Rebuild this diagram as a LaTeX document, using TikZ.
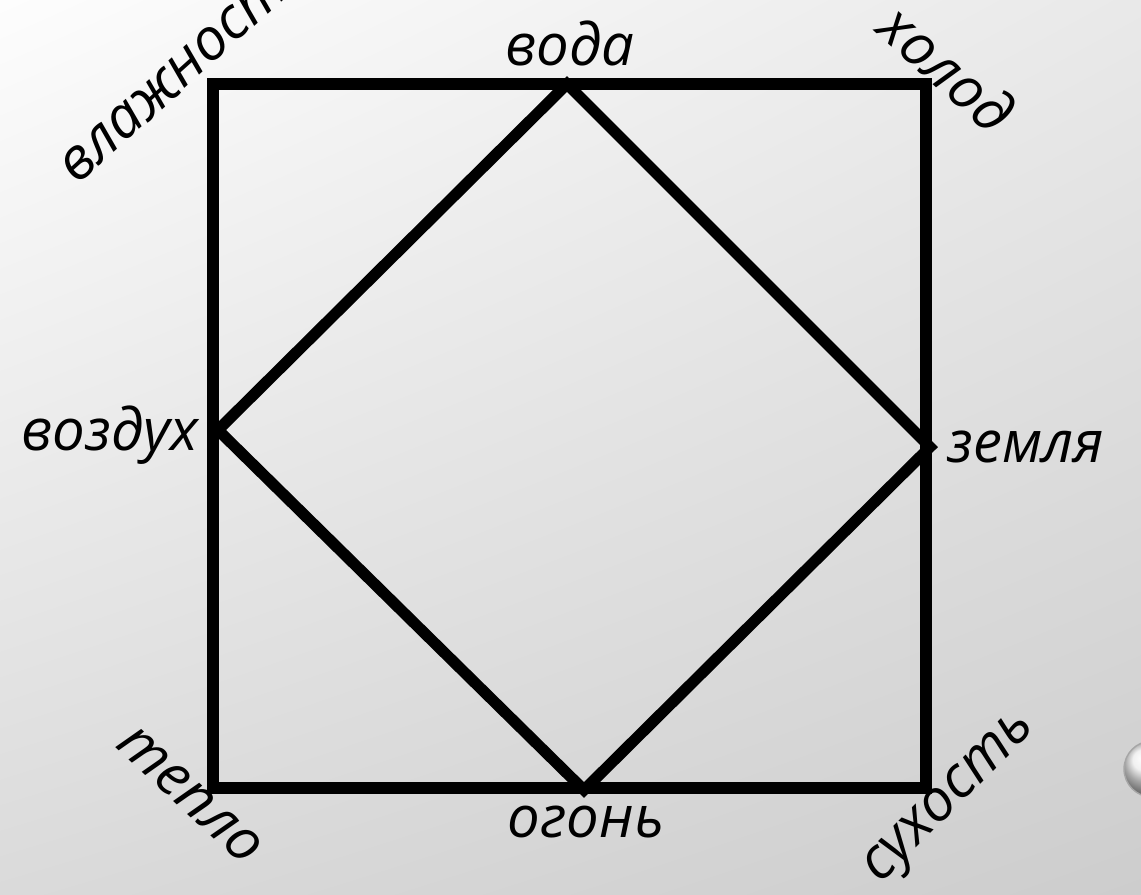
\documentclass[tikz,border=0pt]{standalone}
\usepackage{fontspec}
\setmainfont{Open Sans}
\usetikzlibrary{positioning, shadings}
\definecolor{bgtl}{RGB}{253,253,253}
\definecolor{bgtr}{RGB}{233,233,233}
\definecolor{bgbl}{RGB}{218,218,218}
\definecolor{bgbr}{RGB}{205,205,205}

\tikzset{
  elem/.style={font=\fontsize{33}{35}\selectfont\itshape, inner sep=0pt},
  frameline/.style={line width=6.4pt, line join=miter},
}

\begin{document}
\begin{tikzpicture}[x=0.02cm, y=-0.02cm]
  % background of the slide
  \shade[upper left=bgtl, upper right=bgtr, lower left=bgbl, lower right=bgbr] (0,0) rectangle (1141,894);
  \useasboundingbox (0,0) rectangle (1141,894);
  \begin{scope}
    \clip (0,0) rectangle (1141,894);
    \shade[ball color=gray!15, draw=gray!70, line width=0.8pt] (1152,769) circle[radius=0.56cm];
  \end{scope}

  % square and diamond
  \coordinate (sqNW) at (213,84);
  \coordinate (sqSE) at (926,788);
  \coordinate (vN) at (567,84);
  \coordinate (vE) at (930,447);
  \coordinate (vS) at (584,790);
  \coordinate (vW) at (218,430);
  \draw[frameline] (sqNW) rectangle (sqSE);
  \draw[frameline] (vN) -- (vE) -- (vS) -- (vW) -- cycle;

  % elements
  \node[elem] (voda) at (570,43) {вода};
  \node[elem] (vozduh) at (110,435) {воздух};
  \node[elem] (zemlya) at (1026,447) {земля};
  \node[elem] (ogon) at (586,822) {огонь};
  % qualities
  \node[elem, rotate=42] (vlazhn) at (185,68) {влажность};
  \node[elem, rotate=-42] (holod) at (948,68) {холод};
  \node[elem, rotate=-43] (teplo) at (190,795) {тепло};
  \node[elem, rotate=45] (suhost) at (952,800) {сухость};
\end{tikzpicture}
\end{document}
